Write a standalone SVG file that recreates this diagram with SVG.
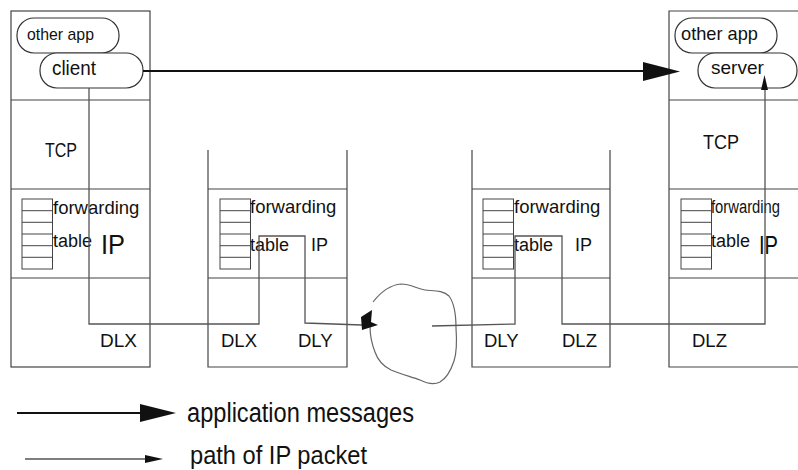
<svg xmlns="http://www.w3.org/2000/svg" width="798" height="470" viewBox="0 0 798 470">
<style>
  .box { fill: none; stroke: #444; stroke-width: 1.2; }
  .pill { fill: #fff; stroke: #333; stroke-width: 1.2; }
  .tbl { fill: none; stroke: #444; stroke-width: 1; }
  .t { font-family: "Liberation Sans", Arial, sans-serif; fill: #111; }
  .path { fill: none; stroke: #555; stroke-width: 1.3; }
  .app { fill: none; stroke: #111; stroke-width: 2; }
  .head { fill: #111; stroke: none; }
  .cloud { fill: none; stroke: #666; stroke-width: 1.2; }
</style>
<defs>
  <g id="table">
    <rect class="tbl" x="0" y="0" width="30.5" height="70"/>
    <path class="tbl" d="M0,11.7H30.5M0,23.3H30.5M0,35H30.5M0,46.7H30.5M0,58.3H30.5"/>
  </g>
</defs>
<rect width="798" height="470" fill="#fff"/>

<g id="hostA">
  <rect class="box" x="11" y="11" width="139" height="356"/>
  <path class="box" d="M11,100H150M11,189H150M11,278H150"/>
  <rect class="pill" x="17" y="18" width="102" height="35" rx="17"/>
  <text class="t" x="27" y="40" font-size="17" textLength="67" lengthAdjust="spacingAndGlyphs">other app</text>
  <rect class="pill" x="40" y="53" width="103" height="35" rx="17"/>
  <text class="t" x="52" y="75" font-size="19.5" textLength="44" lengthAdjust="spacingAndGlyphs">client</text>
  <text class="t" x="45" y="157" font-size="20" textLength="32" lengthAdjust="spacingAndGlyphs">TCP</text>
  <use href="#table" x="22" y="199"/>
  <text class="t" x="53" y="214" font-size="18.5">forwarding</text>
  <text class="t" x="53" y="247" font-size="18">table</text>
  <text class="t" x="101" y="254" font-size="28" textLength="24" lengthAdjust="spacingAndGlyphs">IP</text>
  <text class="t" x="100" y="347" font-size="19">DLX</text>
</g>

<g id="router1">
  <path class="box" d="M208,150V367H347V150M208,189H347M208,278H347"/>
  <use href="#table" x="220" y="199"/>
  <text class="t" x="250" y="213" font-size="18.5">forwarding</text>
  <text class="t" x="250" y="251" font-size="18">table</text>
  <text class="t" x="311" y="251" font-size="18">IP</text>
  <text class="t" x="221" y="347" font-size="18.5">DLX</text>
  <text class="t" x="298" y="347" font-size="18.5">DLY</text>
</g>

<g id="router2">
  <path class="box" d="M472,150V367H610V150M472,189H610M472,278H610"/>
  <use href="#table" x="483" y="199"/>
  <text class="t" x="514" y="213" font-size="18.5">forwarding</text>
  <text class="t" x="514" y="251" font-size="18">table</text>
  <text class="t" x="575" y="251" font-size="18">IP</text>
  <text class="t" x="484" y="347" font-size="18.5">DLY</text>
  <text class="t" x="562" y="347" font-size="18.5">DLZ</text>
</g>

<g id="hostB">
  <path class="box" d="M800,11H669V367H800M669,100H800M669,189H800M669,278H800"/>
  <rect class="pill" x="675" y="18" width="102" height="35" rx="17"/>
  <text class="t" x="681" y="40" font-size="18.5" textLength="77" lengthAdjust="spacingAndGlyphs">other app</text>
  <rect class="pill" x="698" y="53" width="99" height="35" rx="17"/>
  <text class="t" x="711" y="74" font-size="19">server</text>
  <text class="t" x="703" y="149" font-size="20" textLength="36" lengthAdjust="spacingAndGlyphs">TCP</text>
  <use href="#table" x="681" y="199"/>
  <text class="t" x="711" y="213" font-size="18" textLength="69" lengthAdjust="spacingAndGlyphs">forwarding</text>
  <text class="t" x="711" y="247" font-size="18">table</text>
  <text class="t" x="759" y="254" font-size="25" textLength="19" lengthAdjust="spacingAndGlyphs">IP</text>
  <text class="t" x="692" y="347" font-size="18.5">DLZ</text>
</g>

<g id="network">
  <path class="cloud" d="M373,302 C380,293 390,285 401,284 C411,284 417,289 425,290 C433,291 443,290 449,296 C455,304 456,316 456,328 C457,342 457,352 454,361 C451,370 447,378 440,382 C434,385 428,384 420,380 C412,377 400,374 391,370 C383,366 378,361 375,352 C371,342 370,333 370,326"/>
</g>

<g id="connectors">
  <path class="app" d="M143,71H644"/>
  <polygon class="head" points="643,62 680,71.5 643,81"/>
  <polyline class="path" points="89,88 89,324 259,324 259,236 305,236 305,323 362,325"/>
  <polygon class="head" points="361,317 372,310 371,322 378,325 362,330"/>
  <polyline class="path" points="432,326 515,324 515,236 562,236 562,324 765,324 765,88"/>
  <polygon class="head" points="764.5,75 761,90 768,90"/>
</g>

<g id="legend">
  <path class="app" d="M17,413H141"/>
  <polygon class="head" points="140,404 176,413 140,422"/>
  <text class="t" x="187" y="422" font-size="27" textLength="227" lengthAdjust="spacingAndGlyphs">application messages</text>
  <path class="path" d="M25,459H147"/>
  <polygon class="head" points="145,455 163,459 145,463"/>
  <text class="t" x="190" y="464" font-size="26" textLength="177" lengthAdjust="spacingAndGlyphs">path of IP packet</text>
</g>
</svg>
